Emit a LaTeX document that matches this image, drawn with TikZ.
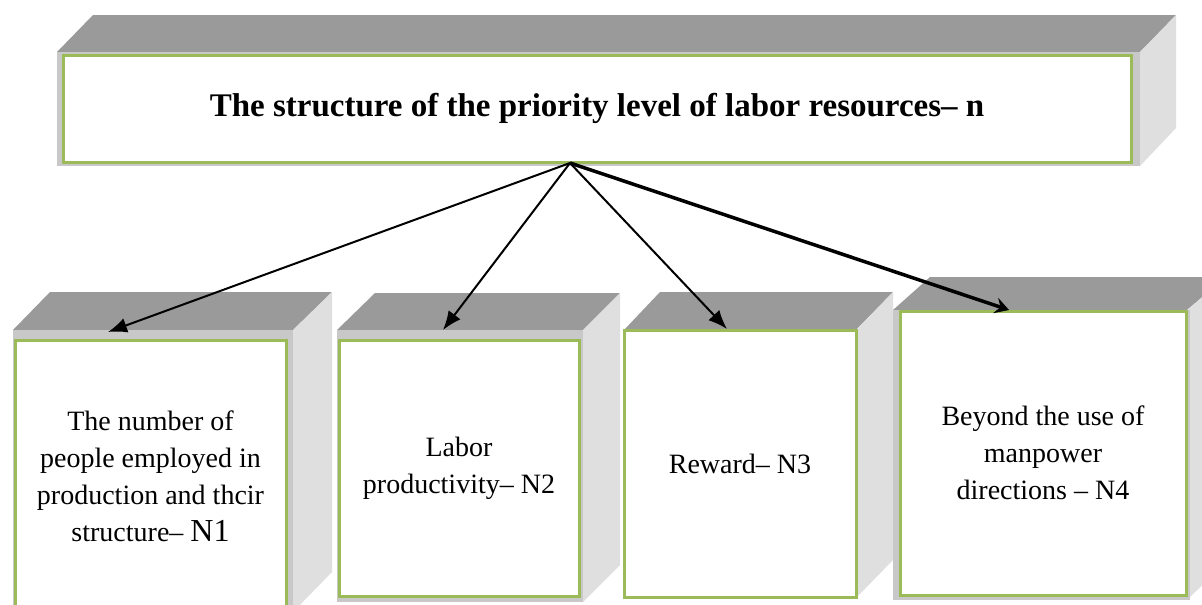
\documentclass[tikz,border=0pt]{standalone}
\usepackage{fontspec}
\setmainfont{Liberation Serif}
\usetikzlibrary{arrows.meta}
\definecolor{boxgreen}{HTML}{9BBB59}
\definecolor{topgray}{HTML}{9A9A9A}
\definecolor{sidegray}{HTML}{DFDFDF}
\definecolor{frontgray}{HTML}{C8C8C8}
\tikzset{
  greenbox/.style={draw=boxgreen, line width=3pt, fill=white, inner sep=0pt, align=center,
    font=\fontsize{28}{37}\selectfont},
  topface/.style={fill=topgray},
  sideface/.style={fill=sidegray},
  frontface/.style={fill=frontgray},
  conn/.style={-{Latex[length=19pt,width=15pt]}, line width=2pt},
  thickconn/.style={-{Stealth[length=14pt,width=16pt,inset=5pt]}, line width=3.5pt},
}
\begin{document}
\begin{tikzpicture}[x=1pt,y=-1pt]
\useasboundingbox (0,0) rectangle (1202,605);
\clip (0,0) rectangle (1202,605);
% ---------- top block ----------
\fill[topface] (57,52) -- (93,15) -- (1176,15) -- (1140,52) -- cycle;
\fill[sideface] (1140,52) -- (1176,15) -- (1176,128) -- (1140,166) -- cycle;
\fill[frontface] (57,52) rectangle (1140,166);
\node[greenbox, minimum width=1068pt, minimum height=107pt, font=\fontsize{33}{40}\selectfont\bfseries]
  (top) at (597,108.5) {The structure of the priority level of labor resources-- n};
\coordinate (src) at (570,163);
% ---------- box 1 ----------
\fill[topface] (13,330) -- (50,292) -- (332,292) -- (293,330) -- cycle;
\fill[sideface] (293,330) -- (332,292) -- (332,572) -- (293,612) -- cycle;
\fill[frontface] (13,330) rectangle (293,615);
\node[greenbox, minimum width=271pt, minimum height=272pt] (b1) at (150.5,476)
  {The number of\\ people employed in\\ production and thcir\\ structure-- {\fontsize{32}{37}\selectfont N1}};
% ---------- box 2 ----------
\fill[topface] (337,330) -- (375,293) -- (620,293) -- (583,330) -- cycle;
\fill[sideface] (583,330) -- (620,293) -- (620,565) -- (583,602) -- cycle;
\fill[frontface] (337,330) rectangle (583,602);
\node[greenbox, minimum width=240pt, minimum height=256pt] (b2) at (459,468)
  {Labor\\ productivity-- N2};
% ---------- box 3 ----------
\fill[topface] (624,330) -- (660,292) -- (893,292) -- (856,330) -- cycle;
\fill[sideface] (856,330) -- (893,292) -- (893,560) -- (856,598) -- cycle;
\node[greenbox, minimum width=232pt, minimum height=267pt] (b3) at (740,463.5)
  {Reward-- N3};
% ---------- box 4 ----------
\fill[topface] (893,310) -- (930,277) -- (1226,277) -- (1187,310) -- cycle;
\fill[sideface] (1187,310) -- (1226,277) -- (1226,562) -- (1187,600) -- cycle;
\fill[frontface] (893,310) rectangle (1190,600);
\node[greenbox, minimum width=286pt, minimum height=284pt] (b4) at (1043,453)
  {Beyond the use of\\ manpower\\ directions -- N4};
% ---------- arrow tips ----------
\coordinate (t1) at (108,332);
\coordinate (t2) at (443,330);
\coordinate (t3) at (727,329);
\coordinate (t4) at (1009,310);
\draw[conn] (src) -- (t1);
\draw[conn] (src) -- (t2);
\draw[conn] (src) -- (t3);
\draw[thickconn] (src) -- (t4);
\end{tikzpicture}
\end{document}
